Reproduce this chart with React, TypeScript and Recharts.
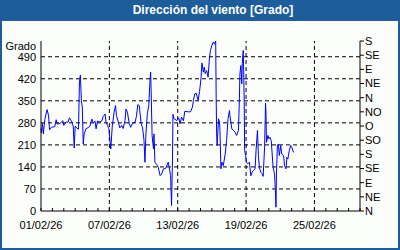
import React from 'react'
import { LineChart, Line, XAxis, YAxis, ReferenceLine } from 'recharts'

// hours since 01/02/26 00:00
const HOURS = [
  0, 1, 3, 5, 8, 12, 13, 16, 18, 22, 29, 32, 34, 40, 46, 48, 53, 57, 60, 65,
  68, 70, 72, 75, 79, 81, 83, 85, 87, 89, 91, 95, 100, 103, 107, 110, 114, 116, 119, 123,
  128, 131, 135, 137, 140, 143, 145, 147, 150, 154, 157, 159, 163, 166, 170, 173, 177, 179, 182, 186,
  189, 193, 198, 201, 204, 207, 211, 214, 217, 219, 221, 224, 227, 230, 231, 232, 234, 237, 238, 240,
  244, 247, 251, 254, 258, 263, 268, 270, 273, 275, 277, 278, 280, 286, 290, 293, 296, 300, 303, 310,
  315, 319, 321, 324, 327, 331, 334, 337, 339, 342, 344, 346, 349, 352, 355, 357, 360, 363, 366, 368,
  369, 370, 371, 374, 376, 377, 379, 381, 384, 388, 391, 394, 397, 398, 402, 405, 409, 412, 416, 418,
  419, 421, 423, 424, 426, 427, 428, 429, 431, 433, 436, 439, 442, 445, 447, 451, 453, 456, 458, 460,
  463, 466, 468, 471, 473, 474, 475, 478, 480, 482, 485, 487, 489, 492, 494, 495, 496, 498, 500, 502,
  505, 507, 511, 513, 516, 518, 520, 523, 526, 529, 532,
]

const DEGREES = [
  262, 248, 278, 245, 290, 318, 322, 302, 258, 266, 268, 290, 276, 278, 287, 272, 283, 282, 296, 283,
  268, 200, 270, 264, 260, 410, 432, 351, 330, 213, 245, 262, 265, 270, 292, 280, 285, 261, 286, 283,
  286, 300, 308, 283, 272, 261, 229, 197, 267, 314, 335, 303, 282, 264, 272, 262, 287, 324, 314, 277,
  266, 279, 282, 300, 338, 335, 277, 264, 224, 155, 245, 309, 335, 425, 441, 383, 240, 197, 245, 155,
  147, 139, 112, 117, 134, 136, 155, 139, 112, 17, 165, 307, 294, 287, 296, 277, 298, 287, 317, 315,
  315, 330, 351, 372, 374, 351, 380, 420, 470, 441, 457, 436, 446, 425, 489, 510, 526, 537, 530, 540,
  362, 245, 208, 293, 282, 256, 134, 155, 144, 181, 224, 293, 319, 303, 261, 256, 250, 240, 256, 362,
  436, 462, 404, 468, 510, 446, 351, 192, 176, 155, 150, 155, 112, 123, 128, 134, 192, 256, 176, 139,
  123, 118, 110, 202, 343, 309, 218, 240, 229, 234, 224, 181, 139, 117, 54, 12, 117, 208, 213, 176,
  208, 181, 176, 144, 134, 170, 165, 192, 208, 200, 186,
]

const DAY_TICKS = Array.from({ length: 29 }, (_, i) => i * 24)
const LABEL_HOURS = [0, 144, 288, 432, 576]
const DATE_LABELS = ['01/02/26', '07/02/26', '13/02/26', '19/02/26', '25/02/26']
const LEFT_TICKS = [0, 70, 140, 210, 280, 350, 420, 490]
const RIGHT_TICKS = [0, 45, 90, 135, 180, 225, 270, 315, 360, 405, 450, 495, 540]
const COMPASS = ['N', 'NE', 'E', 'SE', 'S', 'SO', 'O', 'NO', 'N', 'NE', 'E', 'SE', 'S']

const FONT = '"Liberation Sans", Arial, sans-serif'
const FRAME = '#1d5d9b'

const data = HOURS.map((h, i) => ({ h, deg: DEGREES[i] }))

function DayTick(props: any) {
  const { x, y, payload } = props
  const idx = LABEL_HOURS.indexOf(payload.value)
  return (
    <g>
      <line x1={x} x2={x} y1={y - 3} y2={y} stroke="#000" />
      {idx >= 0 && (
        <text x={x} y={y + 10} dy="0.71em" textAnchor="middle" fontSize={11} fontFamily={FONT} fill="#000">
          {DATE_LABELS[idx]}
        </text>
      )}
    </g>
  )
}

export default function App() {
  const tickStyle = { fontSize: 11, fontFamily: FONT, fill: '#000' }
  return (
    <div style={{ position: 'absolute', left: 0, top: 0, width: 400, height: 250, background: FRAME }}>
      <div style={{ position: 'absolute', left: 2, top: 21, width: 396, height: 227, background: '#fbfefb' }} />
      <div
        style={{
          position: 'absolute', left: 26, top: 0, width: 374, height: 21, lineHeight: '20px',
          textAlign: 'center', color: '#fff', fontWeight: 'bold', fontSize: 12, fontFamily: FONT,
        }}
      >
        Dirección del viento [Grado]
      </div>
      <div
        style={{
          position: 'absolute', left: 0, top: 40, width: 36, lineHeight: '12px',
          textAlign: 'right', fontSize: 11, fontFamily: FONT, color: '#000',
        }}
      >
        Grado
      </div>
      <div style={{ position: 'absolute', left: 0, top: 0 }}>
        <LineChart width={400} height={250} data={data} margin={{ top: 41, right: 0, bottom: 9, left: 0 }}>
          <XAxis
            xAxisId="t"
            orientation="top"
            dataKey="h"
            type="number"
            domain={[0, 672]}
            height={0}
            tick={false}
            tickLine={false}
            axisLine={{ stroke: '#000' }}
          />
          <XAxis
            xAxisId="b"
            dataKey="h"
            type="number"
            domain={[0, 672]}
            ticks={DAY_TICKS}
            interval={0}
            height={30}
            tickSize={0}
            tickMargin={0}
            tickLine={false}
            tick={<DayTick />}
            axisLine={{ stroke: '#000' }}
          />
          <YAxis
            yAxisId="l"
            type="number"
            domain={[0, 540]}
            ticks={LEFT_TICKS}
            interval={0}
            width={41}
            tickLine={false}
            tickSize={0}
            tickMargin={5}
            tick={tickStyle}
            axisLine={{ stroke: '#000' }}
          />
          <YAxis
            yAxisId="r"
            orientation="right"
            type="number"
            domain={[0, 540]}
            ticks={RIGHT_TICKS}
            interval={0}
            width={40}
            tickSize={4}
            tickMargin={1}
            tickLine={{ stroke: '#000' }}
            tick={tickStyle}
            tickFormatter={(v: number) => COMPASS[RIGHT_TICKS.indexOf(v)]}
            axisLine={{ stroke: '#000' }}
          />
          {LEFT_TICKS.slice(1).map((v) => (
            <ReferenceLine key={'y' + v} xAxisId="b" yAxisId="l" y={v} stroke="#000" strokeDasharray="4 3" />
          ))}
          {LABEL_HOURS.slice(1).map((v) => (
            <ReferenceLine key={'x' + v} xAxisId="b" yAxisId="l" x={v} stroke="#000" strokeDasharray="4 3" />
          ))}
          {/* invisible series so the compass axis is laid out */}
          <Line
            xAxisId="t"
            yAxisId="r"
            type="linear"
            dataKey="deg"
            stroke="none"
            dot={false}
            activeDot={false}
            isAnimationActive={false}
          />
          <Line
            xAxisId="b"
            yAxisId="l"
            type="linear"
            dataKey="deg"
            stroke="#0000ff"
            strokeWidth={1}
            dot={false}
            isAnimationActive={false}
          />
        </LineChart>
      </div>
    </div>
  )
}
